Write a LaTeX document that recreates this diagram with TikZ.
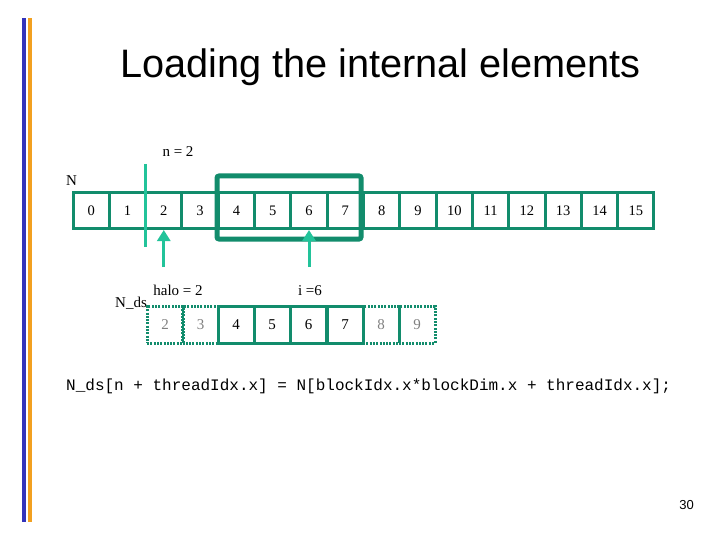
\documentclass[tikz,border=0pt]{standalone}
\usepackage{fontspec}
\setmainfont{Liberation Serif}
\setmonofont{Liberation Mono}
\newfontfamily\arialf{Liberation Sans}
\usetikzlibrary{arrows.meta}
\definecolor{dkgreen}{RGB}{18,140,108}
\definecolor{ltgreen}{RGB}{34,195,154}
\definecolor{barblue}{RGB}{51,51,187}
\definecolor{barorange}{RGB}{242,160,32}
\tikzset{
  cellN/.style={draw=dkgreen, line width=3pt, minimum width=36.31pt, minimum height=36pt, inner sep=0pt, font=\fontsize{14.5}{16}\selectfont},
  cellS/.style={draw=dkgreen, line width=3pt, minimum width=36pt, minimum height=37pt, inner sep=0pt, font=\fontsize{15}{17}\selectfont},
  cellD/.style={draw=dkgreen, line width=3pt, dash pattern=on 2pt off 1.3pt, minimum width=36pt, minimum height=37pt, inner sep=0pt, text=gray, font=\fontsize{15}{17}\selectfont},
  lbl/.style={inner sep=0pt, font=\fontsize{15}{17}\selectfont},
  ptr/.style={ltgreen, line width=3pt, -{Triangle[width=13pt,length=11pt]}}
}
\begin{document}
\begin{tikzpicture}[x=1pt,y=-1pt]
\useasboundingbox (0,0) rectangle (720,540);
\fill[white] (0,0) rectangle (720,540);
% side bars
\fill[barblue] (22,18) rectangle (26,522);
\fill[barorange] (28,18) rectangle (32,522);
% title
\node[anchor=base, inner sep=0pt, font=\arialf\fontsize{39.7}{44}\selectfont] (title) at (380.5,78) {Loading the internal elements};
% labels
\node[lbl, anchor=base] (nlbl) at (178,157) {n = 2};
\node[lbl, anchor=base west] (Nlbl) at (66,186) {N};
% N array
\foreach \i in {0,...,15} {
  \node[cellN] (n\i) at ({73+36.31*(\i+0.5)},210.5) {\i};
}
% block box
\draw[dkgreen, line width=5pt, rounded corners=2pt] (217,176) rectangle (361,239);
% vertical line
\coordinate (vt) at (145,164);
\coordinate (vb) at (145,247);
\draw[ltgreen, line width=3pt] (vt) -- (vb);
% arrows
\coordinate (a2) at ([yshift=-37pt]n2.south);
\coordinate (a6) at ([yshift=-37pt]n6.south);
\draw[ptr] (a2) -- (n2.south);
\draw[ptr] (a6) -- (n6.south);
% N_ds labels
\node[lbl, anchor=base] (halo) at (178,295) {halo = 2};
\node[lbl, anchor=base] (ilbl) at (310,295) {i =6};
\node[lbl, anchor=base west] (ndslbl) at (115,307) {N\_ds};
% N_ds array
\node[cellD] (d2) at (165,324.5) {2};
\node[cellD] (d3) at (200.5,324.5) {3};
\node[cellS] (d4) at (236,324.5) {4};
\node[cellS] (d5) at (272,324.5) {5};
\node[cellS] (d6) at (308.5,324.5) {6};
\node[cellS] (d7) at (345,324.5) {7};
\node[cellD] (d8) at (381,324.5) {8};
\node[cellD] (d9) at (417,324.5) {9};
% code
\node[anchor=base west, inner sep=0pt, font=\ttfamily\fontsize{16}{18}\selectfont] (code) at (66,390) {N\_ds[n + threadIdx.x] = N[blockIdx.x*blockDim.x + threadIdx.x];};
% page number
\node[anchor=base east, inner sep=0pt, font=\arialf\fontsize{13}{15}\selectfont] (pg) at (694,509) {30};
\end{tikzpicture}
\end{document}
